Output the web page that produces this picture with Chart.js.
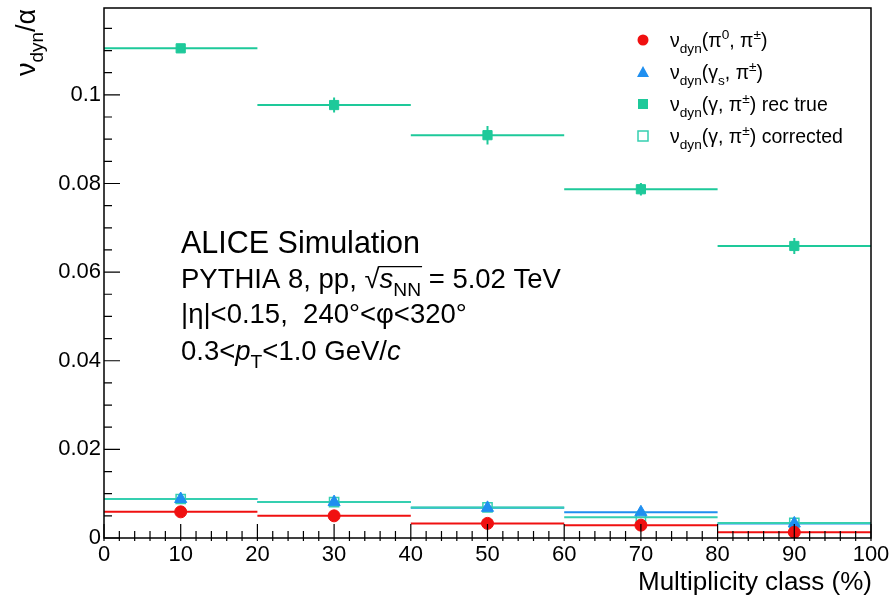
<!DOCTYPE html>
<html>
<head>
<meta charset="utf-8">
<script src="https://cdn.jsdelivr.net/npm/chart.js@4"></script>
<style>
  html, body { margin: 0; padding: 0; background: #fff; }
  #wrap { width: 892px; height: 600px; }
</style>
</head>
<body>
<div id="wrap"><canvas id="nu-dyn-chart" width="892" height="600"></canvas></div>
<script>
// multiplicity classes (bin centres, half widths in %)
const binCenters = [10, 30, 50, 70, 90];
const binHalfWidth = [10, 10, 10, 10, 10];

// nu_dyn / alpha per class
const nuPi0 = [0.0059, 0.0050, 0.0033, 0.0029, 0.0013];
const nuGammaS = [0.0088, 0.0081, 0.0068, 0.0058, 0.0033];
const nuRecTrue = [0.1105, 0.0977, 0.0909, 0.0787, 0.0659];
const nuCorrected = [0.0088, 0.0081, 0.0069, 0.0047, 0.0034];

// statistical errors
const errPi0 = [0.0002, 0.0002, 0.0002, 0.0002, 0.0002];
const errGammaS = [0.0002, 0.0002, 0.0002, 0.0002, 0.0002];
const errRecTrue = [0.0008, 0.0017, 0.0021, 0.0014, 0.0018];
const errCorrected = [0.0002, 0.0002, 0.0002, 0.0002, 0.0002];

const xTickLabels = [0, 10, 20, 30, 40, 50, 60, 70, 80, 90, 100];
const yTickLabels = [0, 0.02, 0.04, 0.06, 0.08, 0.1];

const FONT = '"Liberation Sans", Arial, Helvetica, sans-serif';
const RED = "#f01010";
const BLUE = "#1f8ff0";
const TEAL = "#1ec99a";
const TEAL2 = "#35cfb0";

function points(vals, errs) {
    return binCenters.map((x, i) => ({ x: x, y: vals[i], ex: binHalfWidth[i], ey: errs[i] }));
}

// draws text made of pieces: {t, s (scale), dy, it}
function richText(ctx, x, y, size, parts) {
    let cx = x;
    parts.forEach(p => {
        const sz = size * (p.s || 1);
        ctx.font = (p.it ? "italic " : "") + sz + "px " + FONT;
        ctx.fillText(p.t, cx, y + (p.dy || 0) * size);
        cx += ctx.measureText(p.t).width + (p.gap || 0);
    });
    return cx;
}

function nuDyn(inner) {
    return [{ t: "\u03bd" }, { t: "dyn", s: 0.7, dy: 0.3 }].concat(inner);
}

const errorBars = {
    id: "errorBars",
    beforeDatasetsDraw(chart) {
        const ctx = chart.ctx, xs = chart.scales.x, ys = chart.scales.y;
        chart.data.datasets.forEach(ds => {
            ctx.save();
            ctx.strokeStyle = ds.lineColor;
            ctx.lineWidth = 2;
            ds.data.forEach(p => {
                const px0 = xs.getPixelForValue(p.x - p.ex), px1 = xs.getPixelForValue(p.x + p.ex);
                const py = ys.getPixelForValue(p.y);
                ctx.beginPath();
                ctx.moveTo(px0, py); ctx.lineTo(px1, py);
                const cx = xs.getPixelForValue(p.x);
                ctx.moveTo(cx, ys.getPixelForValue(p.y - p.ey));
                ctx.lineTo(cx, ys.getPixelForValue(p.y + p.ey));
                ctx.stroke();
            });
            ctx.restore();
        });
    }
};

const rootFrame = {
    id: "rootFrame",
    afterDraw(chart) {
        const ctx = chart.ctx, a = chart.chartArea, xs = chart.scales.x, ys = chart.scales.y;
        ctx.save();
        ctx.strokeStyle = "#000";
        ctx.lineWidth = 1.5;
        ctx.strokeRect(a.left, a.top, a.right - a.left, a.bottom - a.top);
        ctx.lineWidth = 1.2;
        ctx.beginPath();
        // x ticks
        for (let v = 0; v <= 100.001; v += 2) {
            const px = xs.getPixelForValue(v);
            const major = Math.abs(v % 10) < 0.01;
            ctx.moveTo(px, a.bottom + 3);
            ctx.lineTo(px, a.bottom - (major ? 14 : 7));
        }
        // y ticks
        for (let i = 0; i * 0.005 <= ys.max + 1e-9; i++) {
            const py = ys.getPixelForValue(i * 0.005);
            const major = i % 4 === 0;
            ctx.moveTo(a.left, py);
            ctx.lineTo(a.left + (major ? 16 : 8), py);
        }
        ctx.stroke();

        ctx.fillStyle = "#000";
        ctx.textBaseline = "alphabetic";
        // x title
        ctx.font = "26px " + FONT;
        ctx.textAlign = "right";
        ctx.fillText("Multiplicity class (%)", a.right + 1, 590);
        ctx.textAlign = "left";

        // y title
        ctx.save();
        ctx.translate(35, 76);
        ctx.rotate(-Math.PI / 2);
        richText(ctx, 0, 0, 27, nuDyn([{ t: "/\u03b1" }]));
        ctx.restore();

        // annotation
        const tx = 181, fs = 27.5;
        richText(ctx, tx, 253, 30.5, [{ t: "ALICE Simulation" }]);
        let cx = richText(ctx, tx, 288, fs, [{ t: "PYTHIA 8, pp, " }, { t: "\u221a" }]);
        const sx = cx;
        cx = richText(ctx, cx, 288, fs, [{ t: "s", it: true }, { t: "NN", s: 0.7, dy: 0.3 }]);
        ctx.lineWidth = 1.3;
        ctx.beginPath();
        ctx.moveTo(sx - 1, 288 - fs * 0.78);
        ctx.lineTo(cx + 1, 288 - fs * 0.78);
        ctx.stroke();
        richText(ctx, cx, 288, fs, [{ t: " = 5.02 TeV" }]);
        richText(ctx, tx, 323, fs, [{ t: "|\u03b7|<0.15,  240\u00b0<\u03c6<320\u00b0" }]);
        richText(ctx, tx, 360, fs, [{ t: "0.3<" }, { t: "p", it: true }, { t: "T", s: 0.7, dy: 0.3 },
            { t: "<1.0 GeV/" }, { t: "c", it: true }]);

        // legend
        const lx = 643, tx2 = 670, ls = 19.5;
        const rows = [40, 72, 104, 136];
        const texts = [
            nuDyn([{ t: "(\u03c0" }, { t: "0", s: 0.7, dy: -0.4 }, { t: ", \u03c0" }, { t: "\u00b1", s: 0.7, dy: -0.4 }, { t: ")" }]),
            nuDyn([{ t: "(\u03b3" }, { t: "s", s: 0.7, dy: 0.3 }, { t: ", \u03c0" }, { t: "\u00b1", s: 0.7, dy: -0.4 }, { t: ")" }]),
            nuDyn([{ t: "(\u03b3, \u03c0" }, { t: "\u00b1", s: 0.7, dy: -0.4 }, { t: ") rec true" }]),
            nuDyn([{ t: "(\u03b3, \u03c0" }, { t: "\u00b1", s: 0.7, dy: -0.4 }, { t: ") corrected" }])
        ];
        rows.forEach((ry, i) => {
            const ds = chart.data.datasets[i];
            ctx.save();
            if (ds.pointStyle === "circle") {
                ctx.fillStyle = ds.pointBackgroundColor;
                ctx.beginPath(); ctx.arc(lx, ry, 5.5, 0, Math.PI * 2); ctx.fill();
            } else if (ds.pointStyle === "triangle") {
                ctx.fillStyle = ds.pointBackgroundColor;
                ctx.beginPath(); ctx.moveTo(lx, ry - 6); ctx.lineTo(lx + 6, ry + 5); ctx.lineTo(lx - 6, ry + 5);
                ctx.closePath(); ctx.fill();
            } else if (ds.filled) {
                ctx.fillStyle = ds.pointBackgroundColor;
                ctx.fillRect(lx - 5, ry - 5, 10, 10);
            } else {
                ctx.strokeStyle = ds.pointBorderColor; ctx.lineWidth = 1.5;
                ctx.strokeRect(lx - 5, ry - 5, 10, 10);
            }
            ctx.restore();
            ctx.fillStyle = "#000";
            richText(ctx, tx2, ry + 7, ls, texts[i]);
        });
        ctx.restore();
    }
};

const ctx = document.getElementById("nu-dyn-chart").getContext("2d");
new Chart(ctx, {
    type: "scatter",
    data: {
        datasets: [
            { label: "pi0", data: points(nuPi0, errPi0), pointStyle: "circle", pointRadius: 6,
              pointBackgroundColor: RED, pointBorderColor: RED, lineColor: RED },
            { label: "gammaS", data: points(nuGammaS, errGammaS), pointStyle: "triangle", pointRadius: 7,
              pointBackgroundColor: BLUE, pointBorderColor: BLUE, lineColor: BLUE },
            { label: "recTrue", data: points(nuRecTrue, errRecTrue), pointStyle: "rect", pointRadius: 6.5,
              pointBackgroundColor: TEAL, pointBorderColor: TEAL, lineColor: TEAL, filled: true },
            { label: "corrected", data: points(nuCorrected, errCorrected), pointStyle: "rect", pointRadius: 6.5,
              pointBorderWidth: 1.5, pointBackgroundColor: "rgba(0,0,0,0)", pointBorderColor: TEAL2, lineColor: TEAL2 }
        ]
    },
    options: {
        responsive: false,
        animation: false,
        layout: { padding: { top: 8, right: 21, left: 0, bottom: 0 } },
        plugins: { legend: { display: false }, tooltip: { enabled: false } },
        scales: {
            x: {
                type: "linear", min: 0, max: 100,
                afterFit(scale) { scale.height = 62; scale.paddingLeft = 0; scale.paddingRight = 0; },
                afterBuildTicks(scale) { scale.ticks = xTickLabels.map(v => ({ value: v })); },
                grid: { display: false, drawTicks: false },
                border: { display: false },
                ticks: { padding: 4, color: "#000", font: { family: FONT, size: 22 }, maxRotation: 0 }
            },
            y: {
                type: "linear", min: 0, max: 0.1196,
                afterFit(scale) { scale.width = 104; scale.paddingTop = 0; scale.paddingBottom = 0; },
                afterBuildTicks(scale) { scale.ticks = yTickLabels.map(v => ({ value: v })); },
                grid: { display: false, drawTicks: false },
                border: { display: false },
                ticks: { padding: 3, color: "#000", font: { family: FONT, size: 22 },
                         callback: v => String(+Number(v).toFixed(3)) }
            }
        }
    },
    plugins: [errorBars, rootFrame]
});
</script>
</body>
</html>
